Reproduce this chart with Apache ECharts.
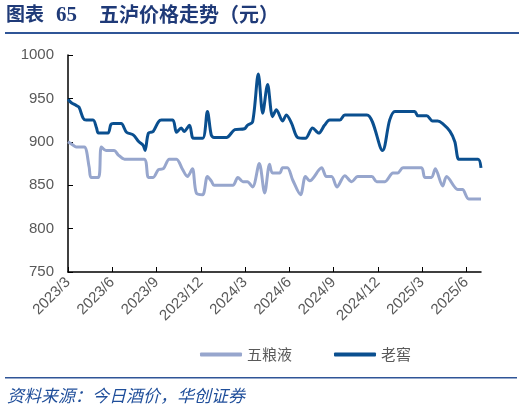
<!DOCTYPE html>
<html>
<head>
<meta charset="utf-8">
<script src="https://cdn.jsdelivr.net/npm/echarts@6/dist/echarts.min.js"></script>
<style>
html,body{margin:0;padding:0;background:#fff;}
#c{width:524px;height:413px;}
</style>
</head>
<body>
<div id="c"></div>
<script>
// 五粮液
const wlyDates = ['2023-03-01','2023-03-12','2023-03-18','2023-04-04','2023-04-14','2023-04-18','2023-05-03','2023-05-09','2023-05-19','2023-06-05','2023-06-13','2023-06-26','2023-08-06','2023-08-15','2023-08-25','2023-09-05','2023-09-15','2023-09-27','2023-10-12','2023-10-24','2023-11-04','2023-11-14','2023-11-22','2023-12-05','2023-12-15','2023-12-23','2023-12-29','2024-02-06','2024-02-16','2024-02-26','2024-03-06','2024-03-17','2024-03-31','2024-04-11','2024-04-21','2024-04-27','2024-05-12','2024-05-18','2024-05-28','2024-06-08','2024-06-24','2024-07-04','2024-07-13','2024-08-07','2024-08-17','2024-08-28','2024-09-08','2024-09-24','2024-10-08','2024-10-21','2024-11-19','2024-11-29','2024-12-16','2025-01-02','2025-01-12','2025-01-23','2025-02-28','2025-03-07','2025-03-21','2025-03-29','2025-04-13','2025-04-21','2025-05-14','2025-05-24','2025-06-06','2025-07-01'];
const wlyValues = [900,896,894,894,871,859,859,894,890,890,885,880,880,859,859,868,869,880,880,869,860,869,841,839,860,855,850,850,859,854,854,848,875,841,874,864,864,870,870,856,839,860,855,870,860,860,848,861,854,860,860,854,854,864,864,870,870,859,859,869,849,860,845,845,834,834];
// 老窖
const ljDates = ['2023-03-01','2023-03-08','2023-03-18','2023-03-24','2023-04-02','2023-04-08','2023-04-22','2023-04-29','2023-05-03','2023-05-23','2023-05-29','2023-06-03','2023-06-19','2023-06-30','2023-07-14','2023-07-26','2023-08-04','2023-08-08','2023-08-15','2023-08-25','2023-09-05','2023-09-11','2023-10-04','2023-10-12','2023-10-22','2023-10-28','2023-11-08','2023-11-14','2023-11-18','2023-12-05','2023-12-15','2023-12-23','2023-12-29','2024-01-24','2024-02-10','2024-02-29','2024-03-06','2024-03-17','2024-03-29','2024-04-07','2024-04-17','2024-04-27','2024-05-05','2024-05-18','2024-05-26','2024-06-06','2024-06-18','2024-07-04','2024-07-19','2024-08-01','2024-08-13','2024-08-24','2024-09-14','2024-09-24','2024-11-09','2024-12-11','2024-12-26','2025-01-06','2025-02-15','2025-02-21','2025-03-11','2025-03-23','2025-04-03','2025-04-13','2025-04-28','2025-05-08','2025-05-16','2025-05-24','2025-06-25','2025-07-01'];
const ljValues = [949,945,942,940,927,925,925,916,910,910,920,921,921,911,908,900,896,890,910,912,923,925,925,911,916,912,919,905,904,904,935,908,905,905,914,915,919,923,978,933,966,929,937,924,931,921,905,904,916,910,919,925,925,931,931,890,925,935,935,930,930,924,924,921,912,900,880,880,880,870];
const xTickLabels = ['2023/3','2023/6','2023/9','2023/12','2024/3','2024/6','2024/9','2024/12','2025/3','2025/6'];
const yTicks = [750,800,850,900,950,1000];

function toMonth(s){
  const [y,m,d] = s.split('-').map(Number);
  const dim = new Date(y, m, 0).getDate();
  return (y-2023)*12 + (m-3) + (d-1)/dim;
}
const labelPos = xTickLabels.map((_,i)=>i*3);
const wlyData = wlyDates.map((d,i)=>[toMonth(d), wlyValues[i]]);
const ljData = ljDates.map((d,i)=>[toMonth(d), ljValues[i]]);
const xMax = Math.max(toMonth(wlyDates[wlyDates.length-1]), toMonth(ljDates[ljDates.length-1]));

const chart = echarts.init(document.getElementById('c'));
const gray = '#595959';
const navy = '#1f3a78';
chart.setOption({
  animation:false,
  backgroundColor:'#fff',
  grid:{left:68,right:524-481,top:55,bottom:141,containLabel:false},
  xAxis:{
    type:'value',min:0,max:xMax,
    splitLine:{show:false},
    axisLine:{lineStyle:{color:'#000',width:1.5}},
    axisTick:{inside:true,length:5,lineStyle:{color:'#000'},customValues:labelPos},
    axisLabel:{customValues:labelPos,rotate:45,color:gray,fontSize:15,fontFamily:'Liberation Sans, Arial',margin:8,
      formatter:v=>xTickLabels[Math.round(v/3)]||''}
  },
  yAxis:{
    type:'value',min:yTicks[0],max:yTicks[yTicks.length-1],interval:50,
    splitLine:{show:false},
    axisLine:{show:true,lineStyle:{color:'#000',width:1.5}},
    axisTick:{show:true,inside:true,length:5,lineStyle:{color:'#000'}},
    axisLabel:{color:gray,fontSize:15,fontFamily:'Liberation Sans, Arial',margin:14,formatter:v=>String(v)}
  },
  legend:{
    top:342,left:195,itemGap:42,itemWidth:42,itemHeight:4,icon:'roundRect',
    textStyle:{color:gray,fontSize:15,fontFamily:'Noto Sans CJK SC'},
    data:['五粮液','老窖']
  },
  series:[
    {name:'五粮液',type:'line',data:wlyData,smooth:0.3,symbol:'none',
     lineStyle:{color:'#97a6cd',width:3},itemStyle:{color:'#97a6cd'}},
    {name:'老窖',type:'line',data:ljData,smooth:0.3,symbol:'none',
     lineStyle:{color:'#0a4f8f',width:3},itemStyle:{color:'#0a4f8f'}}
  ],
  graphic:[
    {type:'text',left:6,top:4,style:{text:'图表',fill:navy,font:'bold 19px "Noto Sans CJK SC"'}},
    {type:'text',left:56,top:5,style:{text:'65',fill:navy,font:'bold 21px "Liberation Serif"'}},
    {type:'text',left:99,top:4,style:{text:'五泸价格走势（元）',fill:navy,font:'bold 20px "Noto Sans CJK SC"'}},
    {type:'rect',shape:{x:5,y:32,width:514,height:2},style:{fill:'#2f5597'}},
    {type:'rect',shape:{x:5,y:377,width:512,height:1.5},style:{fill:'#2f5597'}},
    {type:'text',left:7,top:387,style:{text:'资料来源：今日酒价，华创证券',fill:'#1f4e9a',font:'italic 17px "Noto Sans CJK SC"'}}
  ]
});
</script>
</body>
</html>
